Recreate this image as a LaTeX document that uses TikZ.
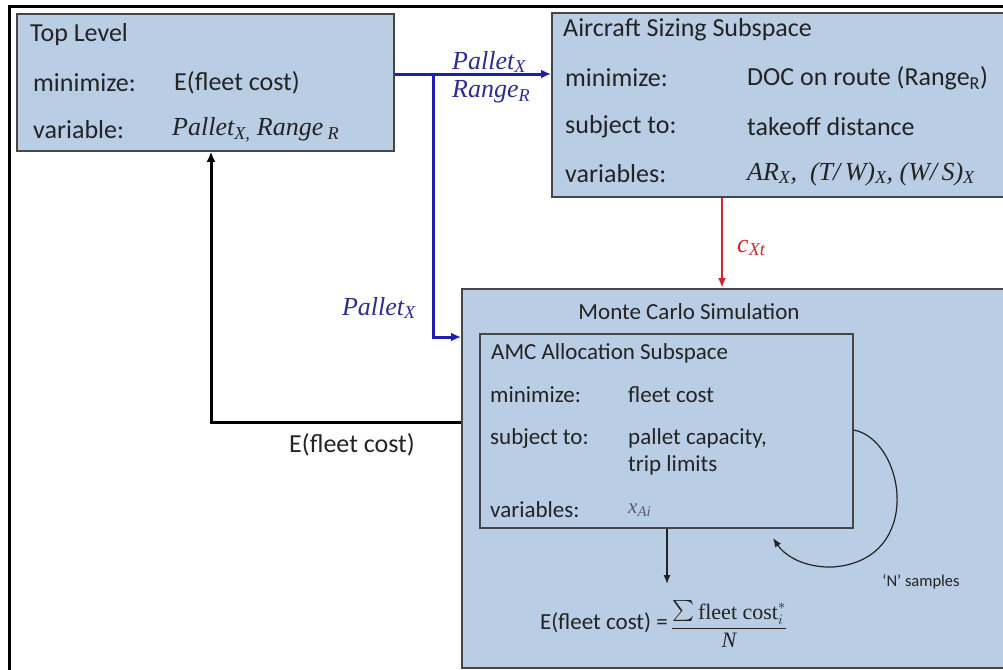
\documentclass[tikz,border=0pt]{standalone}
\usepackage{fontspec}
\usepackage{graphicx}
\setmainfont{Carlito}
\newfontfamily\tim{Liberation Serif}
\usetikzlibrary{arrows.meta}
\definecolor{boxfill}{RGB}{185,205,229}
\definecolor{boxline}{RGB}{70,70,70}
\definecolor{bluearrow}{RGB}{30,30,175}
\definecolor{bluetext}{RGB}{45,45,140}
\definecolor{redarrow}{RGB}{205,40,40}
\definecolor{txt}{RGB}{35,35,35}
\definecolor{greytext}{RGB}{90,90,110}
\tikzset{
  box/.style={draw=boxline,fill=boxfill,line width=1.8pt,anchor=north west,inner sep=0pt},
  lbl/.style={anchor=west,inner sep=0pt,font=\fontsize{26}{30}\selectfont,text=txt},
  slbl/.style={anchor=west,inner sep=0pt,font=\fontsize{23}{27}\selectfont,text=txt},
  ital/.style={inner sep=0pt,font=\fontsize{26}{28}\selectfont\tim\itshape},
  bluearr/.style={draw=bluearrow,line width=3pt,-{Latex[length=10pt,width=9pt]}},
  redarr/.style={draw=redarrow,line width=2.5pt,-{Latex[length=10pt,width=8pt]}},
  blackarr/.style={draw=black,line width=3pt,-{Latex[length=10pt,width=9pt]}},
  thinarr/.style={draw=txt,line width=1.2pt,-{Latex[length=9pt,width=7pt]}},
}
\begin{document}
\begin{tikzpicture}[x=1pt,y=-1pt]
\useasboundingbox (0,0) rectangle (1003,669);
\clip (0,0) rectangle (1003,669);
% outer frame
\draw[line width=3pt] (9,700) -- (9,7) -- (1040,7);

% boxes
\node[box,minimum width=377pt,minimum height=137pt] (top) at (16,13) {};
\node[box,minimum width=480pt,minimum height=184pt] (ac) at (551,12) {};
\node[box,minimum width=560pt,minimum height=379pt] (mc) at (461,288) {};
\node[box,minimum width=373pt,minimum height=194pt] (amc) at (479,333) {};

% top level text
\node[lbl] (t1) at (30,35) {Top Level};
\node[lbl] (t2) at (33,83) {minimize:};
\node[lbl] (t3) at (174,83) {E(fleet cost)};
\node[lbl] (t4) at (33,130) {variable:};
\node[ital,anchor=west,text=txt] (t5) at (172,130) {Pallet\textsubscript{X,}\ Range\,\textsubscript{R}};

% aircraft text
\node[lbl] (a1) at (563,30) {Aircraft Sizing Subspace};
\node[lbl] (a2) at (565,78) {minimize:};
\node[lbl] (a3) at (747,78) {DOC on route (Range\textsubscript{R})};
\node[lbl] (a4) at (565,127) {subject to:};
\node[lbl] (a5) at (747,127) {takeoff distance};
\node[lbl] (a6) at (565,174) {variables:};
\node[ital,anchor=west,text=txt] (a7) at (747,174) {AR\textsubscript{X},\ \ (T/\,W)\textsubscript{X}, (W/\,S)\textsubscript{X}};

% monte carlo
\node[slbl,anchor=center] (m1) at (689,312) {Monte Carlo Simulation};
\node[slbl] (m2) at (491,353) {AMC Allocation Subspace};
\node[slbl] (m3) at (490,395) {minimize:};
\node[slbl] (m4) at (628,395) {fleet cost};
\node[slbl] (m5) at (490,438) {subject to:};
\node[slbl,align=left] (m6) at (628,452) {pallet capacity,\\trip limits};
\node[slbl] (m7) at (490,510) {variables:};
\node[ital,anchor=west,text=greytext,font=\fontsize{21}{24}\selectfont\tim\itshape] (m8) at (628,510) {x\textsubscript{Ai}};

% formula
\node[slbl,anchor=east] (f1) at (668,623) {E(fleet cost) =};
\node[inner sep=0pt,anchor=west,text=txt,font=\fontsize{22}{26}\selectfont] (f2) at (671,624)
  {$\displaystyle\frac{\raisebox{-3pt}{\scalebox{2.1}{$\sum$}}\,\mbox{\tim fleet cost}^{*}_{i}}{\mbox{\tim\itshape N}}$};
\node[inner sep=0pt,font=\fontsize{16.5}{18}\selectfont,text=txt] (ns) at (921,582) {`N' samples};

% connector labels
\node[ital,text=bluetext,anchor=west] (lp1) at (452,62) {Pallet\textsubscript{X}};
\node[ital,text=bluetext,anchor=west] (lr1) at (452,92) {Range\textsubscript{R}};
\node[ital,text=bluetext,anchor=east] (lp2) at (416,308) {Pallet\textsubscript{X}};
\node[ital,text=redarrow,anchor=west] (lc) at (737,248) {c\textsubscript{Xt}};
\node[lbl,anchor=center] (le) at (352,445) {E(fleet cost)};

% helper coordinates
\coordinate (byl) at (0,74);
\coordinate (bj) at (433,74);
\coordinate (ba) at (0,337);
\coordinate (rx) at (722,0);
\coordinate (ky) at (0,422);
\coordinate (kx) at (211,0);
\coordinate (ix) at (667,0);
\coordinate (itip) at (667,584);
\coordinate (ls) at (0,430);
\coordinate (lm) at (833,567);
\coordinate (le2) at (773,538);

% connectors
\draw[bluearr] (top.east |- byl) -- (ac.west |- byl);
\draw[bluearr] (bj) |- (mc.west |- ba);
\draw[redarr] (ac.south -| rx) -- (mc.north -| rx);
\draw[blackarr] (mc.west |- ky) -| (top.south -| kx);
\draw[thinarr] (amc.east |- ls) .. controls (905,440) and (925,560) .. (lm)
   .. controls (805,568) and (785,556) .. (le2);
\draw[thinarr] (amc.south -| ix) -- (itip);
\end{tikzpicture}
\end{document}
